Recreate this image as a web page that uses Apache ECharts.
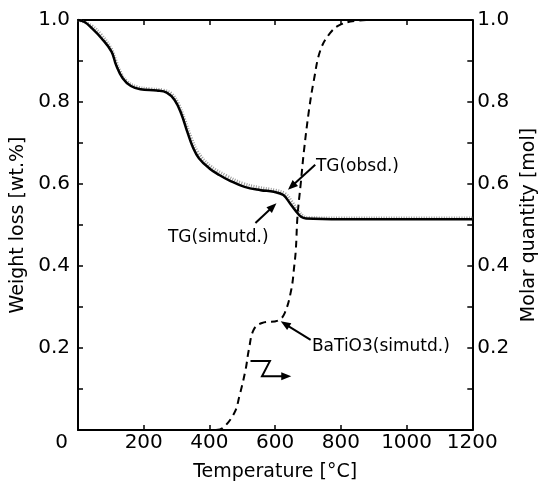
<!DOCTYPE html>
<html><head><meta charset="utf-8">
<script src="https://cdn.jsdelivr.net/npm/echarts@6/dist/echarts.min.js"></script>
<style>html,body{margin:0;padding:0;background:#fff}#c{width:547px;height:492px}</style>
</head><body><div id="c"></div>
<script>
// Temperature (°C) and weight fraction of the simulated TG curve
const tgSimT = [0, 20, 42, 72, 102, 116, 136, 161, 190, 240, 270, 294, 314, 334, 349, 368, 400, 430, 460, 507, 556, 596, 625, 645, 665, 679, 694, 803, 1000, 1200];
const tgSimV = [1.0, 0.995, 0.98, 0.955, 0.923, 0.89, 0.858, 0.839, 0.831, 0.828, 0.823, 0.805, 0.772, 0.724, 0.691, 0.663, 0.638, 0.622, 0.609, 0.593, 0.585, 0.581, 0.573, 0.553, 0.532, 0.52, 0.516, 0.514, 0.514, 0.514];
// Observed TG curve
const tgObsT = [0, 40, 70, 100, 115, 130, 150, 180, 220, 260, 285, 305, 325, 345, 365, 400, 450, 500, 550, 600, 630, 650, 670, 685, 700, 800, 1000, 1200];
const tgObsV = [1.0, 0.987, 0.965, 0.932, 0.902, 0.872, 0.85, 0.837, 0.832, 0.829, 0.82, 0.797, 0.757, 0.712, 0.678, 0.646, 0.621, 0.602, 0.592, 0.585, 0.577, 0.558, 0.535, 0.522, 0.518, 0.517, 0.517, 0.517];
// Simulated BaTiO3 molar quantity
const btT = [420, 441, 476, 491, 510, 520, 535, 560, 609, 629, 649, 658, 663, 668, 678, 688, 703, 718, 738, 767, 797, 846, 895, 1000, 1200];
const btV = [0, 0.005, 0.042, 0.082, 0.147, 0.196, 0.245, 0.261, 0.267, 0.285, 0.342, 0.399, 0.44, 0.521, 0.602, 0.683, 0.78, 0.854, 0.927, 0.968, 0.988, 0.998, 1.0, 1.0, 1.0];
const xTicks = [0, 200, 400, 600, 800, 1000, 1200];
const yTicks = [0.2, 0.4, 0.6, 0.8, 1.0];

const FONT = 'DejaVu Sans';
const chart = echarts.init(document.getElementById('c'), null, {renderer: 'canvas'});
const pair = (xs, ys) => xs.map((x, i) => [x, ys[i]]);
const mkLine = () => ({show: true, onZero: false, lineStyle: {color: '#000', width: 2}});
const mkTick = () => ({show: true, inside: true, length: 5, lineStyle: {color: '#000', width: 1.5}});
const yAxisBase = (pos, name, gap, margin) => ({
  type: 'value', position: pos, min: 0, max: 1, interval: 0.2,
  name: name, nameLocation: 'middle', nameGap: gap,
  nameTextStyle: {fontFamily: FONT, fontSize: 19, color: '#000'},
  axisLine: mkLine(), axisTick: mkTick(),
  minorTick: {show: true, splitNumber: 2, length: 5, lineStyle: {color: '#000', width: 1.5}},
  splitLine: {show: false}, minorSplitLine: {show: false},
  axisLabel: {inside: false, fontFamily: FONT, fontSize: 20, color: '#000', margin: margin,
    formatter: v => (yTicks.some(t => Math.abs(t - v) < 1e-6) ? v.toFixed(1) : '')}
});
chart.setOption({
  animation: false,
  grid: {left: 78, right: 64, top: 20, bottom: 62},
  xAxis: [{
    type: 'value', min: xTicks[0], max: xTicks[xTicks.length - 1], interval: 200, position: 'bottom',
    name: 'Temperature [°C]', nameLocation: 'middle', nameGap: 33,
    nameTextStyle: {fontFamily: FONT, fontSize: 19, color: '#000'},
    axisLine: mkLine(), axisTick: mkTick(), splitLine: {show: false},
    axisLabel: {inside: false, fontFamily: FONT, fontSize: 20, color: '#000', margin: 3,
      formatter: v => (v === 0 ? '{z|0}' : String(v)),
      rich: {z: {fontFamily: FONT, fontSize: 20, color: '#000', padding: [0, 33, 0, 0]}}}
  }, {
    type: 'value', min: 0, max: 1200, interval: 200, position: 'top',
    axisLine: mkLine(), axisTick: mkTick(), axisLabel: {show: false}, splitLine: {show: false}
  }],
  yAxis: [yAxisBase('left', 'Weight loss [wt.%]', 47, 8), yAxisBase('right', 'Molar quantity [mol]', 44, 5)],
  series: [
    {name: 'TG(obsd.)', type: 'line', data: pair(tgObsT, tgObsV), smooth: 0.4, symbol: 'none',
      lineStyle: {color: '#9a9a9a', width: 3, type: [1, 1.5]}, z: 2},
    {name: 'TG(simutd.)', type: 'line', data: pair(tgSimT, tgSimV), smooth: 0.4, symbol: 'none',
      lineStyle: {color: '#000', width: 2.5}, z: 3},
    {name: 'BaTiO3(simutd.)', type: 'line', yAxisIndex: 1, data: pair(btT, btV), smooth: 0.4, symbol: 'none',
      lineStyle: {color: '#000', width: 2, type: [7, 5]}, z: 3}
  ]
});

// Annotations (data coordinates)
const labels = [
  {text: 'TG(obsd.)', at: [724, 0.642], align: 'left'},
  {text: 'TG(simutd.)', at: [580, 0.47], align: 'right'},
  {text: 'BaTiO3(simutd.)', at: [712, 0.203], align: 'left'}
];
const arrows = [
  {from: [722, 0.647], to: [639, 0.586]},
  {from: [540, 0.505], to: [604, 0.553]},
  {from: [708, 0.22], to: [617, 0.265]}
];
const zGlyph = [[525, 0.168], [584, 0.168], [560, 0.131], [649, 0.131]];

const px = p => chart.convertToPixel({gridIndex: 0}, p);
const g = [];
labels.forEach(l => {
  const p = px(l.at);
  g.push({type: 'text', x: p[0], y: p[1], style: {text: l.text, fontFamily: FONT, fontSize: 17, fill: '#000',
    textAlign: l.align, textVerticalAlign: 'middle'}});
});
function arrowHead(a, b) {
  const dx = b[0] - a[0], dy = b[1] - a[1], L = Math.hypot(dx, dy);
  const ux = dx / L, uy = dy / L, len = 10, w = 4;
  const bx = b[0] - ux * len, by = b[1] - uy * len;
  return {type: 'polygon', shape: {points: [b, [bx - uy * w, by + ux * w], [bx + uy * w, by - ux * w]]}, style: {fill: '#000'}};
}
arrows.forEach(a => {
  const f = px(a.from), t = px(a.to);
  const dx = t[0] - f[0], dy = t[1] - f[1], L = Math.hypot(dx, dy);
  const e = [t[0] - dx / L * 8, t[1] - dy / L * 8];
  g.push({type: 'line', shape: {x1: f[0], y1: f[1], x2: e[0], y2: e[1]}, style: {stroke: '#000', lineWidth: 2}});
  g.push(arrowHead(f, t));
});
const zp = zGlyph.map(px);
const zEnd = [zp[3][0] - 8, zp[3][1]];
g.push({type: 'polyline', shape: {points: [zp[0], zp[1], zp[2], zEnd]}, style: {stroke: '#000', lineWidth: 2, fill: null}});
g.push(arrowHead(zp[2], zp[3]));
chart.setOption({graphic: g});
</script></body></html>
